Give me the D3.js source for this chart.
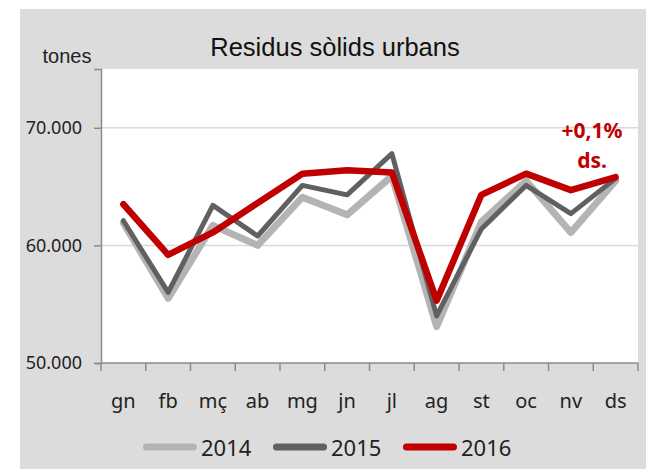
<!DOCTYPE html>
<html>
<head>
<meta charset="utf-8">
<script src="https://cdn.jsdelivr.net/npm/d3@7"></script>
<style>
  body { margin: 0; background: #fff; }
  svg text { font-family: "Noto Sans", sans-serif; }
</style>
</head>
<body>
<div id="chart"></div>
<script>
// months (Catalan abbreviations)
var months = ["gn", "fb", "mç", "ab", "mg", "jn", "jl", "ag", "st", "oc", "nv", "ds"];
var years = ["2014", "2015", "2016"];
var v2014 = [61900, 55500, 61700, 60000, 64100, 62600, 65900, 53100, 62000, 65500, 61100, 65500];
var v2015 = [62100, 56000, 63400, 60800, 65100, 64300, 67800, 54000, 61400, 65100, 62700, 65700];
var v2016 = [63500, 59200, 61100, 63600, 66100, 66400, 66200, 55300, 64300, 66100, 64700, 65800];
var yTicks = [50000, 60000, 70000];

var width = 646, height = 469;
var colors = {"2014": "#b4b4b4", "2015": "#606060", "2016": "#c00000"};
var widths = {"2014": 7, "2015": 5, "2016": 6.5};

var svg = d3.select("#chart").append("svg")
    .attr("width", width)
    .attr("height", height);

// grey chart background
svg.append("rect")
    .attr("x", 20).attr("y", 9)
    .attr("width", width - 20).attr("height", height - 9)
    .attr("fill", "#dcdcdc");

var plot = {left: 101, right: 638, top: 69, bottom: 363};

svg.append("rect")
    .attr("x", plot.left).attr("y", plot.top)
    .attr("width", plot.right - plot.left).attr("height", plot.bottom - plot.top)
    .attr("fill", "#fff");

var x = d3.scaleBand().domain(months).range([plot.left, plot.right]);
var y = d3.scaleLinear().domain([50000, 75000]).range([plot.bottom, plot.top]);

// gridlines
svg.selectAll(".grid")
    .data(yTicks.filter(function (d) { return d > 50000; }))
    .enter().append("line")
    .attr("x1", plot.left).attr("x2", plot.right)
    .attr("y1", function (d) { return y(d); })
    .attr("y2", function (d) { return y(d); })
    .attr("stroke", "#dadada")
    .attr("stroke-width", 1.5);

var fmt = function (d) { return d3.format(",")(d).replace(",", "."); };

var yAxis = svg.append("g")
    .attr("transform", "translate(" + plot.left + ",0)")
    .call(d3.axisLeft(y).tickValues(yTicks).tickFormat(fmt).tickSize(7).tickPadding(12));
yAxis.select(".domain").attr("stroke", "#8c8c8c").attr("stroke-width", 1.5);
yAxis.selectAll(".tick line").attr("stroke", "#8c8c8c").attr("stroke-width", 1.5);
yAxis.selectAll("text").attr("font-size", 18).attr("fill", "#222")
    .attr("font-family", "'Noto Sans', sans-serif");

var xAxis = svg.append("g")
    .attr("transform", "translate(0," + plot.bottom + ")");
xAxis.append("line")
    .attr("x1", plot.left).attr("x2", plot.right)
    .attr("stroke", "#8c8c8c").attr("stroke-width", 1.5);
xAxis.selectAll(".xt")
    .data(months.map(function (m) { return x(m); }).concat([plot.right]))
    .enter().append("line")
    .attr("x1", function (d) { return d; }).attr("x2", function (d) { return d; })
    .attr("y1", 0).attr("y2", 8)
    .attr("stroke", "#8c8c8c").attr("stroke-width", 1.5);
xAxis.selectAll(".xl")
    .data(months)
    .enter().append("text")
    .attr("x", function (d) { return x(d) + x.bandwidth() / 2; })
    .attr("y", 45)
    .attr("text-anchor", "middle")
    .attr("font-size", 20)
    .attr("fill", "#222")
    .text(function (d) { return d; });

// lines
var series = {"2014": v2014, "2015": v2015, "2016": v2016};
var line = d3.line()
    .x(function (d, i) { return x(months[i]) + x.bandwidth() / 2; })
    .y(function (d) { return y(d); });

years.forEach(function (yr) {
    svg.append("path")
        .datum(series[yr])
        .attr("d", line)
        .attr("fill", "none")
        .attr("stroke", colors[yr])
        .attr("stroke-width", widths[yr])
        .attr("stroke-linejoin", "round")
        .attr("stroke-linecap", "round");
});

// titles
svg.append("text")
    .attr("x", 335).attr("y", 56)
    .attr("text-anchor", "middle")
    .attr("font-size", 25.5)
    .attr("fill", "#111")
    .style("font-family", "'Liberation Sans', Arial, sans-serif")
    .text("Residus sòlids urbans");

svg.append("text")
    .attr("x", 67).attr("y", 63)
    .attr("text-anchor", "middle")
    .attr("font-size", 20)
    .attr("fill", "#222")
    .style("font-family", "'Liberation Sans', Arial, sans-serif")
    .text("tones");

// annotation
svg.append("text")
    .attr("x", 592).attr("y", 138)
    .attr("text-anchor", "middle")
    .attr("font-size", 21)
    .attr("font-weight", "bold")
    .attr("fill", "#c00000")
    .text("+0,1%");
svg.append("text")
    .attr("x", 592).attr("y", 168)
    .attr("text-anchor", "middle")
    .attr("font-size", 21)
    .attr("font-weight", "bold")
    .attr("fill", "#c00000")
    .text("ds.");

// legend
var legend = svg.append("g").attr("transform", "translate(143,447)");
var lg = legend.selectAll("g")
    .data(years)
    .enter().append("g")
    .attr("transform", function (d, i) { return "translate(" + (i * 130) + ",0)"; });
lg.append("line")
    .attr("x1", 3.5).attr("x2", 50.5)
    .attr("stroke", function (d) { return colors[d]; })
    .attr("stroke-width", 7)
    .attr("stroke-linecap", "round");
lg.append("text")
    .attr("x", 58).attr("y", 9)
    .attr("font-size", 22)
    .attr("fill", "#222")
    .text(function (d) { return d; });
</script>
</body>
</html>
